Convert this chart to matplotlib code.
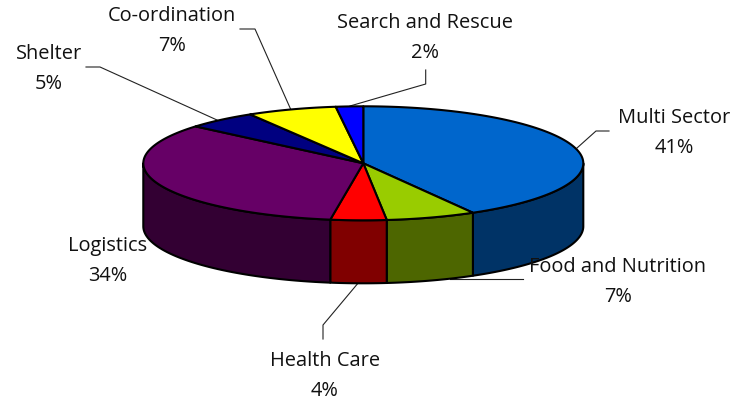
# 三维饼图
import matplotlib
matplotlib.use('Agg')
import matplotlib.pyplot as plt
import numpy as np

plt.rcParams['font.family'] = ['Open Sans', 'DejaVu Sans']

# clockwise from 12 o'clock
categories = ['Multi Sector', 'Food and Nutrition', 'Health Care', 'Logistics',
              'Shelter', 'Co-ordination', 'Search and Rescue']
values = [41.7, 6.6, 4.1, 33.8, 5.2, 6.6, 2.0]
percent_labels = ['41%', '7%', '4%', '34%', '5%', '7%', '2%']
top_colors = ['#0066CC', '#99CC00', '#FF0000', '#660066', '#000080', '#FFFF00', '#0000FF']
side_colors = ['#003366', '#4D6600', '#800000', '#330033', '#000040', '#808000', '#000080']

# label centres in pixels
label_pos = [(674, 118), (618, 267), (325, 361), (108, 246), (49, 54), (172, 16), (425, 23)]
leaders = [
    [(609, 131), (596, 131), (577, 148)],
    [(523, 279), (450, 279)],
    [(323, 339), (323, 325), (359, 282)],
    None,
    [(86, 67), (100, 67), (217, 120)],
    [(240, 29), (255, 29), (291, 110)],
    [(425.7, 70), (425.7, 84), (350, 106)],
]

cx, cy = 363.3, 163.3
rx, ry = 220, 57
depth = 63
edge_w = 1.5


def ellipse_xy(angle):
    # angle in degrees, clockwise from the top
    a = np.radians(angle)
    return cx + rx * np.sin(a), cy - ry * np.cos(a)


fig = plt.figure(figsize=(7.35, 4.03), dpi=100)
ax = fig.add_axes([0, 0, 1, 1])
ax.set_xlim(0, 735)
ax.set_ylim(403, 0)
ax.axis('off')

edges = np.concatenate([[0], np.cumsum(values)]) * 3.6

# side wall, only the front half (90 to 270 degrees) shows
for start, end, color in zip(edges[:-1], edges[1:], side_colors):
    a0, a1 = max(start, 90), min(end, 270)
    if a0 >= a1:
        continue
    t = np.linspace(a0, a1, 80)
    x, y = ellipse_xy(t)
    ax.fill(np.r_[x, x[::-1]], np.r_[y, y[::-1] + depth], facecolor=color,
            edgecolor='black', linewidth=edge_w, joinstyle='round', zorder=2)

# top face
for start, end, color in zip(edges[:-1], edges[1:], top_colors):
    t = np.linspace(start, end, 120)
    x, y = ellipse_xy(t)
    ax.fill(np.r_[cx, x], np.r_[cy, y], facecolor=color,
            edgecolor='black', linewidth=edge_w, joinstyle='round', zorder=3)

for line in leaders:
    if line is not None:
        xs, ys = zip(*line)
        ax.plot(xs, ys, color='#222222', linewidth=0.8, zorder=1)

for name, pct, (lx, ly) in zip(categories, percent_labels, label_pos):
    ax.text(lx, ly, name, ha='center', va='center', fontsize=14.4, color='#111111', zorder=4)
    ax.text(lx, ly + 30, pct, ha='center', va='center', fontsize=14.4, color='#111111', zorder=4)

fig.savefig('out.png', dpi=100)
